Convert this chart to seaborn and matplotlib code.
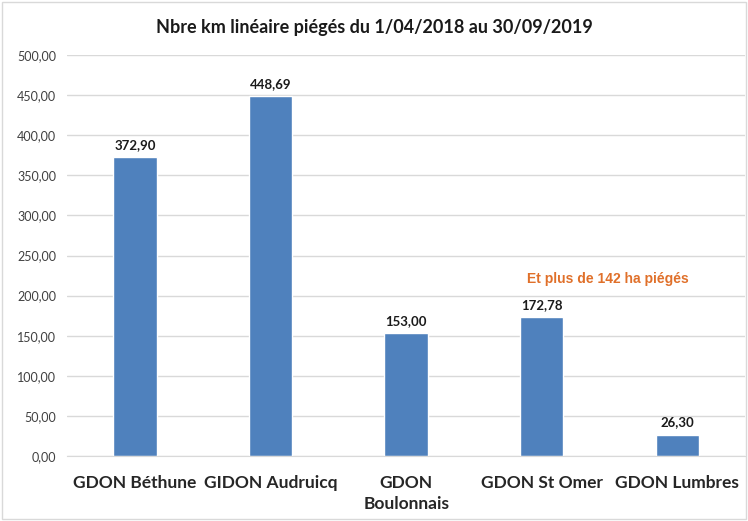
import matplotlib
matplotlib.use("Agg")
import matplotlib.pyplot as plt
from matplotlib.ticker import FuncFormatter, MultipleLocator
from matplotlib.patches import Rectangle
import seaborn as sns
import pandas as pd

categories = ["GDON Béthune", "GIDON Audruicq", "GDON\nBoulonnais", "GDON St Omer", "GDON Lumbres"]
km_values = [372.90, 448.69, 153.00, 172.78, 26.30]
title = "Nbre km linéaire piégés du 1/04/2018 au 30/09/2019"
note = "Et plus de 142 ha piégés"

df = pd.DataFrame({"gdon": categories, "km": km_values})

sns.set_style("white")
plt.rcParams["font.family"] = ["Lato", "DejaVu Sans"]

fig = plt.figure(figsize=(7.48, 5.21), dpi=100)
ax = fig.add_axes([0.09, 0.125, 0.906, 0.769])

sns.barplot(data=df, x="gdon", y="km", color="#4F81BD", width=0.32, saturation=1, ax=ax)

ax.set_ylim(0, 500)
ax.yaxis.set_major_locator(MultipleLocator(50))
ax.yaxis.set_major_formatter(FuncFormatter(lambda v, p: f"{v:.2f}".replace(".", ",")))
ax.grid(axis="y", color="#D9D9D9", linewidth=1)
ax.set_axisbelow(True)
for s in ["top", "right", "left"]:
    ax.spines[s].set_visible(False)
ax.spines["bottom"].set_color("#D9D9D9")
ax.tick_params(axis="y", labelsize=9, colors="#404040", length=0, pad=8)
ax.tick_params(axis="x", labelsize=12.5, length=0, pad=14)
for lbl in ax.get_xticklabels():
    lbl.set_fontweight("bold")
    lbl.set_linespacing(1.35)
ax.set_xlabel("")
ax.set_ylabel("")

for i, v in enumerate(km_values):
    ax.text(i, v + 8, f"{v:.2f}".replace(".", ","), ha="center", va="bottom",
            fontsize=9.5, fontweight="bold", color="#1a1a1a")

ax.text(3.49, 221, note, ha="center", va="center", fontsize=10, fontweight="bold",
        color="#E0702A", family=["Liberation Sans", "DejaVu Sans"])

fig.text(0.5, 0.947, title, ha="center", va="center", fontsize=13, fontweight="bold", color="#1a1a1a")

fig.patches.append(Rectangle((0.003, 0.003), 0.994, 0.994, transform=fig.transFigure,
                             fill=False, edgecolor="#D9D9D9", linewidth=1))

fig.savefig("out.png", dpi=100)
